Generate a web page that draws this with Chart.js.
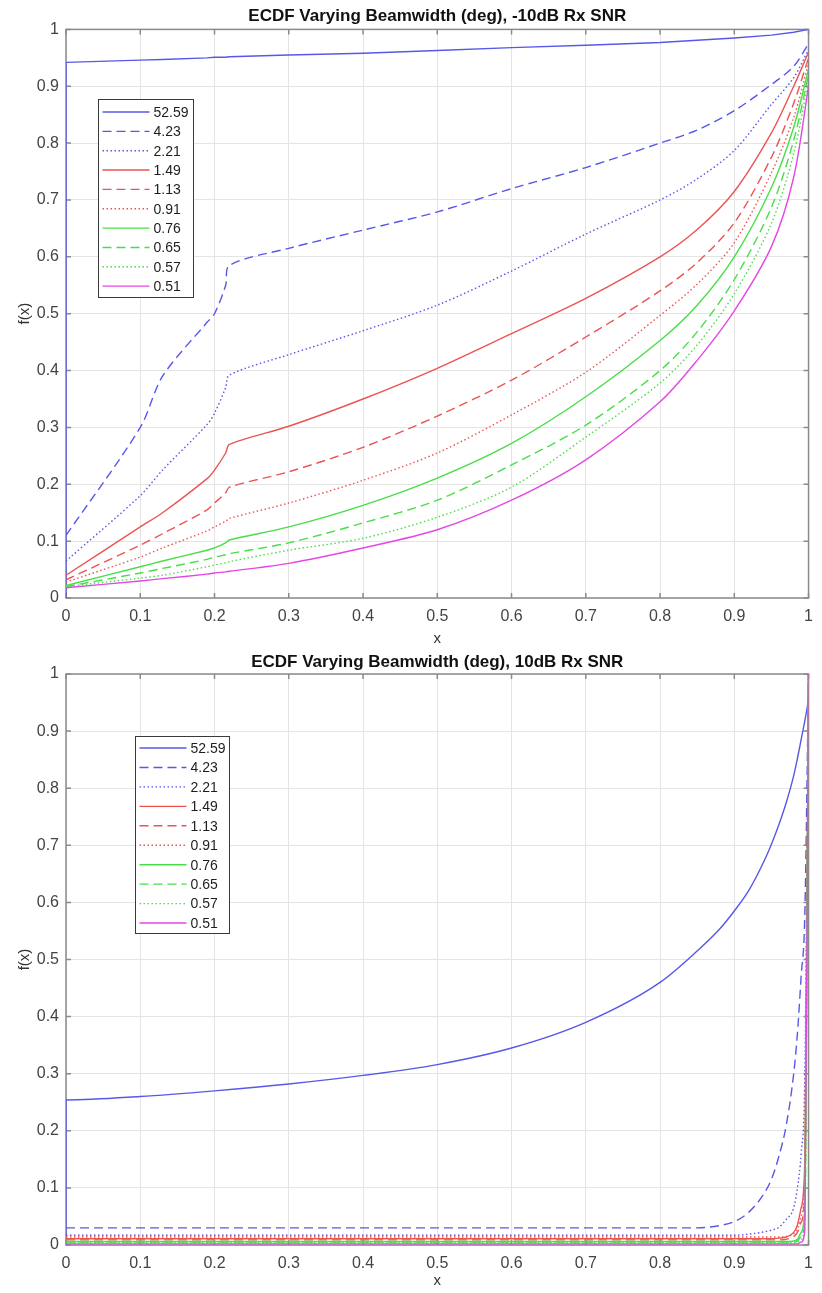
<!DOCTYPE html>
<html>
<head>
<meta charset="utf-8">
<script src="https://cdn.jsdelivr.net/npm/chart.js@4.4.1/dist/chart.umd.min.js"></script>
<style>
  html, body { margin: 0; padding: 0; background: #fff; }
  canvas { display: block; }
</style>
</head>
<body>
<canvas id="snr-low" width="822" height="648"></canvas>
<canvas id="snr-high" width="822" height="645"></canvas>
<script>
"use strict";

const BEAMWIDTHS = ["52.59", "4.23", "2.21", "1.49", "1.13", "0.91", "0.76", "0.65", "0.57", "0.51"];

const X_TICKS = [0, 0.1, 0.2, 0.3, 0.4, 0.5, 0.6, 0.7, 0.8, 0.9, 1];
const Y_TICKS = [0, 0.1, 0.2, 0.3, 0.4, 0.5, 0.6, 0.7, 0.8, 0.9, 1];

// -10 dB Rx SNR
const LOW_X = [0, 0, 0.1, 0.13, 0.19, 0.2, 0.215, 0.22, 0.3, 0.4, 0.5, 0.6, 0.7, 0.8, 0.85, 0.9, 0.95, 0.98, 1];
const low5259 = [0, 0.942, 0.946, 0.947, 0.95, 0.951, 0.951, 0.952, 0.955, 0.958, 0.963, 0.968, 0.972, 0.977, 0.981, 0.985, 0.99, 0.995, 1.0];
const low423 = [0.11, 0.11, 0.3, 0.39, 0.485, 0.5, 0.55, 0.585, 0.615, 0.647, 0.679, 0.72, 0.757, 0.8, 0.823, 0.857, 0.903, 0.935, 0.975];
const low221 = [0.065, 0.065, 0.18, 0.225, 0.305, 0.325, 0.37, 0.392, 0.428, 0.47, 0.515, 0.575, 0.64, 0.7, 0.737, 0.787, 0.868, 0.915, 0.965];
const low149 = [0.04, 0.04, 0.125, 0.15, 0.21, 0.225, 0.255, 0.27, 0.302, 0.35, 0.404, 0.465, 0.527, 0.6, 0.648, 0.715, 0.818, 0.9, 0.96];
const low113 = [0.032, 0.032, 0.093, 0.113, 0.155, 0.167, 0.185, 0.195, 0.222, 0.265, 0.32, 0.383, 0.459, 0.54, 0.59, 0.66, 0.775, 0.87, 0.95];
const low091 = [0.028, 0.028, 0.072, 0.088, 0.118, 0.125, 0.135, 0.14, 0.167, 0.207, 0.255, 0.322, 0.397, 0.497, 0.552, 0.625, 0.748, 0.845, 0.94];
const low076 = [0.022, 0.022, 0.055, 0.065, 0.084, 0.088, 0.097, 0.102, 0.125, 0.163, 0.211, 0.272, 0.354, 0.453, 0.515, 0.6, 0.722, 0.828, 0.93];
const low065 = [0.02, 0.02, 0.044, 0.052, 0.068, 0.072, 0.076, 0.078, 0.097, 0.132, 0.172, 0.234, 0.304, 0.4, 0.468, 0.56, 0.687, 0.805, 0.92];
const low057 = [0.02, 0.02, 0.035, 0.04, 0.055, 0.058, 0.062, 0.064, 0.084, 0.105, 0.142, 0.195, 0.283, 0.378, 0.445, 0.535, 0.659, 0.782, 0.91];
const low051 = [0.018, 0.018, 0.03, 0.034, 0.042, 0.044, 0.046, 0.047, 0.061, 0.088, 0.12, 0.172, 0.243, 0.345, 0.418, 0.505, 0.618, 0.74, 0.9];

// 10 dB Rx SNR
const HIGH_X = [0, 0, 0.1, 0.2, 0.3, 0.4, 0.5, 0.6, 0.7, 0.8, 0.85, 0.88, 0.9, 0.92, 0.94, 0.95, 0.96, 0.97, 0.98, 0.985, 0.99, 0.995, 1];
const high5259 = [0, 0.254, 0.26, 0.27, 0.282, 0.297, 0.316, 0.345, 0.39, 0.46, 0.515, 0.553, 0.585, 0.622, 0.672, 0.702, 0.736, 0.775, 0.822, 0.852, 0.885, 0.918, 0.955];
const high423 = [0.03, 0.03, 0.03, 0.03, 0.03, 0.03, 0.03, 0.03, 0.03, 0.03, 0.03, 0.034, 0.041, 0.058, 0.09, 0.115, 0.155, 0.21, 0.3, 0.37, 0.47, 0.58, 1.0];
const high221 = [0.017, 0.017, 0.017, 0.017, 0.017, 0.017, 0.017, 0.017, 0.017, 0.017, 0.017, 0.017, 0.017, 0.019, 0.023, 0.026, 0.031, 0.045, 0.065, 0.1, 0.16, 0.3, 1.0];
const high149 = [0.011, 0.011, 0.011, 0.011, 0.011, 0.011, 0.011, 0.011, 0.011, 0.011, 0.011, 0.011, 0.011, 0.011, 0.011, 0.011, 0.012, 0.014, 0.022, 0.035, 0.065, 0.15, 1.0];
const high113 = [0.009, 0.009, 0.009, 0.009, 0.009, 0.009, 0.009, 0.009, 0.009, 0.009, 0.009, 0.009, 0.009, 0.009, 0.009, 0.009, 0.009, 0.01, 0.015, 0.022, 0.04, 0.1, 1.0];
const high091 = [0.014, 0.014, 0.014, 0.014, 0.014, 0.014, 0.014, 0.014, 0.014, 0.014, 0.014, 0.014, 0.014, 0.014, 0.014, 0.014, 0.014, 0.015, 0.02, 0.028, 0.05, 0.12, 1.0];
const high076 = [0.006, 0.006, 0.006, 0.006, 0.006, 0.006, 0.006, 0.006, 0.006, 0.006, 0.006, 0.006, 0.006, 0.006, 0.006, 0.006, 0.006, 0.006, 0.007, 0.01, 0.022, 0.07, 1.0];
const high065 = [0.005, 0.005, 0.005, 0.005, 0.005, 0.005, 0.005, 0.005, 0.005, 0.005, 0.005, 0.005, 0.005, 0.005, 0.005, 0.005, 0.005, 0.005, 0.005, 0.007, 0.015, 0.05, 1.0];
const high057 = [0.004, 0.004, 0.004, 0.004, 0.004, 0.004, 0.004, 0.004, 0.004, 0.004, 0.004, 0.004, 0.004, 0.004, 0.004, 0.004, 0.004, 0.004, 0.004, 0.005, 0.01, 0.04, 1.0];
const high051 = [0.002, 0.002, 0.002, 0.002, 0.002, 0.002, 0.002, 0.002, 0.002, 0.002, 0.002, 0.002, 0.002, 0.002, 0.002, 0.002, 0.002, 0.002, 0.002, 0.002, 0.005, 0.025, 1.0];

// line styles, same order as BEAMWIDTHS
const BLUE = "rgb(88, 88, 232)";
const RED = "rgb(236, 84, 84)";
const GREEN = "rgb(72, 222, 72)";
const MAGENTA = "rgb(228, 72, 228)";
const COLORS = [BLUE, BLUE, BLUE, RED, RED, RED, GREEN, GREEN, GREEN, MAGENTA];
const SOLID = [];
const DASHED = [9, 5];
const DOTTED = [1.5, 2.5];
const DASHES = [SOLID, DASHED, DOTTED, SOLID, DASHED, DOTTED, SOLID, DASHED, DOTTED, SOLID];

const FONT = "'Liberation Sans', Arial, Helvetica, sans-serif";
Chart.defaults.font.family = FONT;

// MATLAB style box with inward tick marks
const matlabBox = {
  id: "matlabBox",
  beforeDatasetsDraw(chart) {
    const { ctx, chartArea: a, scales } = chart;
    const len = 5;
    ctx.save();
    ctx.strokeStyle = "#8a8a8a";
    ctx.lineWidth = 1.5;
    ctx.beginPath();
    scales.x.ticks.forEach((t) => {
      const px = scales.x.getPixelForValue(t.value);
      ctx.moveTo(px, a.bottom);
      ctx.lineTo(px, a.bottom - len);
      ctx.moveTo(px, a.top);
      ctx.lineTo(px, a.top + len);
    });
    scales.y.ticks.forEach((t) => {
      const py = scales.y.getPixelForValue(t.value);
      ctx.moveTo(a.left, py);
      ctx.lineTo(a.left + len, py);
      ctx.moveTo(a.right, py);
      ctx.lineTo(a.right - len, py);
    });
    ctx.stroke();
    ctx.strokeRect(a.left, a.top, a.right - a.left, a.bottom - a.top);
    ctx.restore();
  },
};

// boxed legend inside the axes
const boxLegend = {
  id: "boxLegend",
  afterDraw(chart, args, opts) {
    const { ctx, chartArea: a } = chart;
    const left = Math.round(a.left + opts.dx) + 0.5;
    const top = Math.round(a.top + opts.dy) + 0.5;
    ctx.save();
    ctx.fillStyle = "#fff";
    ctx.fillRect(left, top, opts.width, opts.height);
    ctx.strokeStyle = "#3a3a3a";
    ctx.lineWidth = 1;
    ctx.strokeRect(left, top, opts.width, opts.height);
    ctx.font = "14px " + FONT;
    ctx.textBaseline = "middle";
    chart.data.datasets.forEach((ds, i) => {
      const yy = top + opts.firstRow + i * opts.rowGap;
      ctx.setLineDash(ds.borderDash);
      ctx.strokeStyle = ds.borderColor;
      ctx.lineWidth = ds.borderWidth;
      ctx.beginPath();
      ctx.moveTo(left + 4, yy);
      ctx.lineTo(left + 51, yy);
      ctx.stroke();
      ctx.setLineDash([]);
      ctx.fillStyle = "#1e1e1e";
      ctx.fillText(ds.label, left + 55, yy + 1);
    });
    ctx.restore();
  },
};

function makeChart(id, title, xs, series, box) {
  const datasets = series.map((ys, i) => ({
    label: BEAMWIDTHS[i],
    data: xs.map((x, j) => ({ x: x, y: ys[j] })),
    borderColor: COLORS[i],
    borderDash: DASHES[i],
    borderWidth: 1.4,
    pointRadius: 0,
    cubicInterpolationMode: box.curve,
    // the first series starts with a vertical jump at x = 0, keep it straight
    tension: i === 0 ? 0 : box.tension,
    order: series.length - i,
  }));

  return new Chart(document.getElementById(id), {
    type: "line",
    data: { datasets: datasets },
    plugins: [matlabBox, boxLegend],
    options: {
      responsive: false,
      animation: false,
      devicePixelRatio: 1,
      layout: { padding: { left: 10, right: box.padRight, top: 0, bottom: 0 } },
      scales: {
        x: {
          type: "linear",
          min: 0,
          max: 1,
          afterBuildTicks: (s) => { s.ticks = X_TICKS.map((v) => ({ value: v })); },
          afterFit: (s) => { s.height = box.xAxisHeight; },
          grid: { color: "#e4e4e4", drawTicks: false },
          border: { display: false },
          ticks: {
            padding: 9,
            maxRotation: 0,
            autoSkip: false,
            color: "#444",
            font: { size: 16 },
            callback: (v) => String(v),
          },
          title: {
            display: true,
            text: "x",
            color: "#333",
            font: { size: 15 },
            padding: { top: 0, bottom: box.xTitleBottom },
          },
        },
        y: {
          type: "linear",
          min: 0,
          max: 1,
          afterBuildTicks: (s) => { s.ticks = Y_TICKS.map((v) => ({ value: v })); },
          afterFit: (s) => { s.width = 56; },
          grid: { color: "#e4e4e4", drawTicks: false },
          border: { display: false },
          ticks: {
            padding: 7,
            autoSkip: false,
            color: "#444",
            font: { size: 16 },
            callback: (v) => String(v),
          },
          title: {
            display: true,
            text: "f(x)",
            color: "#333",
            font: { size: 15 },
            padding: { top: 6, bottom: 0 },
          },
        },
      },
      plugins: {
        legend: { display: false },
        tooltip: { enabled: false },
        title: {
          display: true,
          fullSize: false,
          text: title,
          color: "#111",
          font: { size: 17, weight: "bold" },
          padding: { top: box.titleTop, bottom: box.titleBottom },
        },
        boxLegend: box.legend,
      },
    },
  });
}

makeChart(
  "snr-low",
  "ECDF Varying Beamwidth (deg), -10dB Rx SNR",
  LOW_X,
  [low5259, low423, low221, low149, low113, low091, low076, low065, low057, low051],
  {
    curve: "default",
    tension: 0.3,
    padRight: 4,
    xAxisHeight: 50,
    xTitleBottom: 0,
    titleTop: 6,
    titleBottom: 3,
    legend: { dx: 32, dy: 70, width: 95, height: 198, firstRow: 12.5, rowGap: 19.35 },
  }
);

makeChart(
  "snr-high",
  "ECDF Varying Beamwidth (deg), 10dB Rx SNR",
  HIGH_X,
  [high5259, high423, high221, high149, high113, high091, high076, high065, high057, high051],
  {
    curve: "monotone",
    tension: 0.4,
    padRight: 3,
    xAxisHeight: 48,
    xTitleBottom: 3,
    titleTop: 4,
    titleBottom: 1.6,
    legend: { dx: 69, dy: 62, width: 94, height: 197, firstRow: 11.5, rowGap: 19.45 },
  }
);
</script>
</body>
</html>
